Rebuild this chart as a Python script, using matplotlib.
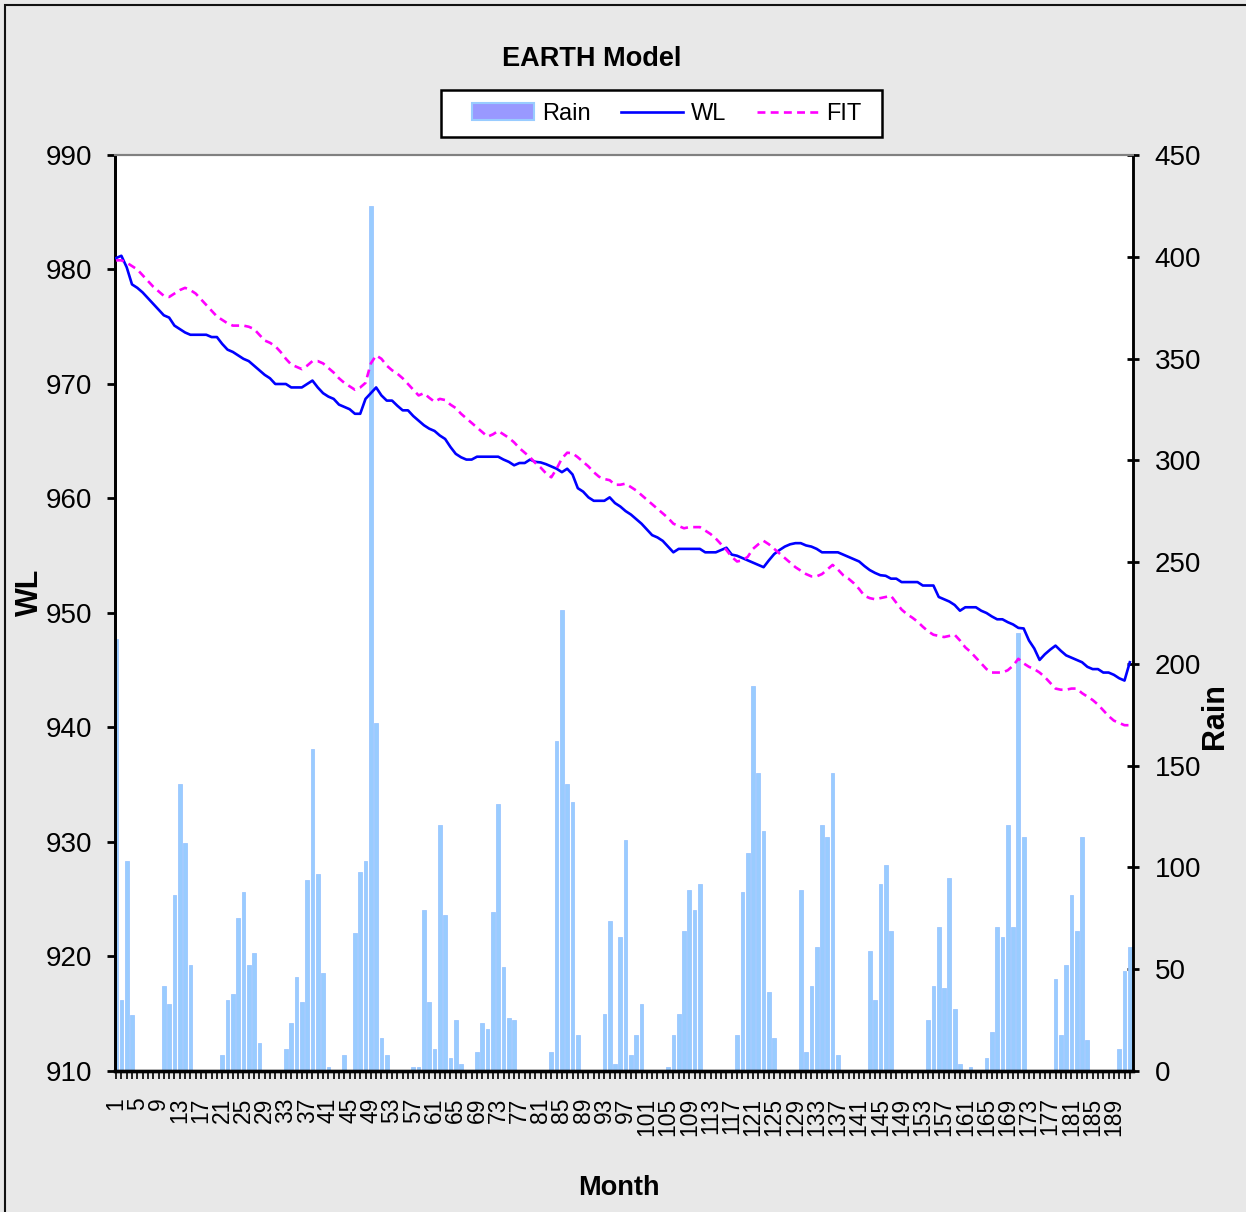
import matplotlib
matplotlib.use("Agg")
import matplotlib.pyplot as plt
from matplotlib.patches import Rectangle, Patch
from matplotlib.lines import Line2D
from matplotlib import font_manager

_names = {f.name for f in font_manager.fontManager.ttflist}
if 'Liberation Sans Narrow' in _names:
    NARROW = ['Liberation Sans Narrow', 'DejaVu Sans']
    NSCALE = 1.2
else:
    NARROW = ['Liberation Sans', 'DejaVu Sans']
    NSCALE = 1.0
REG = ['Liberation Sans', 'DejaVu Sans']

months = list(range(1, 193))

rain = [
    212, 35, 103, 27.5, 0, 0, 0, 0, 0, 42, 33, 86.5,
    141, 112, 52, 0, 0, 0, 0, 0, 8, 35, 38, 75,
    88, 52, 58, 13.6, 0, 0, 0, 0, 10.7, 23.4, 46, 34,
    94, 158, 97, 48, 1.8, 0, 0, 7.7, 0, 68, 98, 103,
    425, 171, 16.4, 7.7, 0, 0, 0, 0, 1.8, 1.8, 79, 34,
    10.7, 121, 76.5, 6.2, 25, 3.4, 0, 0, 9.2, 23.4, 20.6, 78,
    131, 51, 26, 25, 0, 0, 0, 0, 0, 0, 9.2, 162,
    226.5, 141, 132, 17.7, 0, 0, 0, 0, 28, 73.5, 3.4, 66,
    113.5, 7.7, 17.7, 33, 0, 0, 0, 0, 1.8, 17.7, 28, 69,
    89, 79, 92, 0, 0, 0, 0, 0, 0, 17.7, 88, 107,
    189, 146.5, 118, 39, 16.4, 0, 0, 0, 0, 89, 9.2, 42,
    61, 121, 115, 146.5, 7.7, 0, 0, 0, 0, 0, 59, 35,
    92, 101, 69, 0, 0, 0, 0, 0, 0, 25, 42, 70.6,
    40.6, 95, 30.5, 3.4, 0, 1.8, 0, 0, 6.2, 19.2, 70.6, 66,
    121, 70.6, 215, 115, 0, 0, 0, 0, 0, 45, 17.7, 52,
    86.5, 69, 115, 15, 0, 0, 0, 0, 0, 10.7, 49, 61,
]

wl = [
    981.0, 981.2, 980.2, 978.7, 978.4, 978.0, 977.5, 977.0, 976.5, 976.0, 975.8, 975.1,
    974.8, 974.5, 974.3, 974.3, 974.3, 974.3, 974.1, 974.1, 973.5, 973.0, 972.8, 972.5,
    972.2, 972.0, 971.6, 971.2, 970.8, 970.5, 970.0, 970.0, 970.0, 969.7, 969.7, 969.7,
    970.0, 970.3, 969.7, 969.2, 968.9, 968.7, 968.2, 968.0, 967.8, 967.4, 967.4, 968.7,
    969.2, 969.7, 969.0, 968.55, 968.55, 968.1, 967.7, 967.7, 967.2, 966.8, 966.4, 966.1,
    965.9, 965.5, 965.2, 964.5, 963.9, 963.6, 963.4, 963.4, 963.65, 963.65, 963.65, 963.65,
    963.65, 963.4, 963.2, 962.9, 963.1, 963.1, 963.4, 963.2, 963.15, 963.0, 962.8, 962.6,
    962.3, 962.6, 962.1, 960.9, 960.6, 960.1, 959.8, 959.8, 959.8, 960.1, 959.6, 959.3,
    958.9, 958.6, 958.2, 957.8, 957.3, 956.8, 956.6, 956.3, 955.8, 955.3, 955.6, 955.6,
    955.6, 955.6, 955.6, 955.3, 955.3, 955.3, 955.5, 955.7, 955.1, 955.0, 954.8, 954.6,
    954.4, 954.2, 954.0, 954.6, 955.15, 955.5, 955.8, 956.0, 956.1, 956.1, 955.9, 955.8,
    955.6, 955.3, 955.3, 955.3, 955.3, 955.1, 954.9, 954.7, 954.5, 954.1, 953.75, 953.5,
    953.3, 953.25, 953.0, 953.0, 952.7, 952.7, 952.7, 952.7, 952.4, 952.4, 952.4, 951.4,
    951.2, 951.0, 950.7, 950.2, 950.5, 950.5, 950.5, 950.2, 950.0, 949.7, 949.45, 949.45,
    949.2, 949.0, 948.7, 948.65, 947.6, 946.9, 945.9, 946.4, 946.8, 947.15, 946.7, 946.3,
    946.1, 945.9, 945.7, 945.3, 945.1, 945.1, 944.8, 944.8, 944.6, 944.3, 944.1, 945.7,
]

fit = [
    980.8, 980.8, 980.6, 980.3, 980.0, 979.5, 979.0, 978.5, 978.1, 977.7, 977.6, 977.9,
    978.2, 978.4, 978.2, 977.9, 977.4, 976.9, 976.4, 975.9, 975.6, 975.3, 975.1, 975.1,
    975.1, 975.0, 974.8, 974.3, 973.8, 973.6, 973.3, 972.8, 972.2, 971.7, 971.5, 971.3,
    971.6, 972.0, 972.0, 971.8, 971.4, 971.0, 970.5, 970.1, 969.8, 969.5, 969.7, 970.1,
    971.8, 972.5, 972.2, 971.6, 971.2, 970.9, 970.5, 970.0, 969.5, 969.0, 969.2, 968.8,
    968.45, 968.7, 968.6, 968.2, 967.9, 967.4, 967.0, 966.6, 966.2, 965.8, 965.4, 965.6,
    965.9, 965.6, 965.3, 964.9, 964.4, 964.0, 963.6, 963.1, 962.7, 962.2, 961.85, 962.6,
    963.5, 964.0, 963.95, 963.6, 963.2, 962.8, 962.3, 961.9, 961.7, 961.6, 961.2, 961.2,
    961.3, 961.0, 960.7, 960.3, 959.9, 959.5, 959.1, 958.7, 958.3, 957.8, 957.6, 957.4,
    957.5, 957.5, 957.5, 957.2, 956.9, 956.5, 956.0, 955.5, 954.9, 954.5, 954.6, 954.9,
    955.6, 956.0, 956.3, 956.0, 955.6, 955.2, 954.8, 954.4, 954.0, 953.7, 953.4, 953.2,
    953.2, 953.4, 953.8, 954.2, 953.8, 953.3, 953.0, 952.6, 952.1, 951.5, 951.3, 951.2,
    951.3, 951.4, 951.5, 950.9, 950.3, 949.9, 949.6, 949.25, 948.8, 948.4, 948.1, 948.0,
    947.9, 948.0, 948.1, 947.6, 947.0, 946.6, 946.1, 945.6, 945.1, 944.8, 944.8, 944.8,
    945.0, 945.4, 946.0, 945.6, 945.3, 945.1, 944.8, 944.4, 943.9, 943.4, 943.3, 943.3,
    943.4, 943.4, 943.0, 942.7, 942.4, 942.0, 941.5, 941.0, 940.6, 940.4, 940.2, 940.2,
]

xtick_months = list(range(1, 193, 4))
xtick_labels = [str(m) for m in xtick_months]
wl_ticks = list(range(910, 991, 10))
rain_ticks = list(range(0, 451, 50))

W, H = 1246, 1212
fig = plt.figure(figsize=(W / 100, H / 100), dpi=100)
fig.patch.set_facecolor('#E8E8E8')

# outer frame
fig.patches.append(Rectangle((5 / W, -0.01), 1.02, 1 - 5 / H + 0.01,
                             transform=fig.transFigure, fill=False,
                             edgecolor='#111111', linewidth=1.5))

L, R, T, B = 115, 1133, 155, 1071
ax = fig.add_axes([L / W, 1 - B / H, (R - L) / W, (B - T) / H])
ax.set_facecolor('white')
ax.bar(months, rain, width=0.7, color='#99CCFF', edgecolor='#9CC6FF',
       linewidth=0.6, zorder=2)
ax.set_ylim(0, 450)
ax.set_xlim(0.8, 192.6)

ax2 = ax.twinx()
ax2.plot(months, wl, color='#0000FF', linewidth=1.9, zorder=3)
ax2.plot(months, fit, color='#FF00FF', linewidth=1.9, linestyle=(0, (3, 2)), zorder=3)
ax2.set_ylim(910, 990)
ax2.set_xlim(0.8, 192.6)

ax.yaxis.tick_right()
ax2.yaxis.tick_left()

for a in (ax, ax2):
    a.spines['top'].set_color('#808080')
    a.spines['top'].set_linewidth(1.5)
    a.spines['left'].set_color('black')
    a.spines['left'].set_linewidth(2.0)
    a.spines['right'].set_color('black')
    a.spines['right'].set_linewidth(1.8)
    a.spines['bottom'].set_color('black')
    a.spines['bottom'].set_linewidth(2.4)

TICK_FS = 20 * NSCALE
ax.set_yticks(rain_ticks)
ax.set_yticklabels([str(v) for v in rain_ticks], fontfamily=NARROW, fontsize=TICK_FS)
ax.tick_params(axis='y', which='major', direction='inout', length=9, width=2, pad=11)

ax2.set_yticks(wl_ticks)
ax2.set_yticklabels([str(v) for v in wl_ticks], fontfamily=NARROW, fontsize=TICK_FS)
ax2.tick_params(axis='y', which='major', direction='out', length=5.5, width=2, pad=11)

ax.set_xticks(xtick_months)
ax.set_xticklabels(xtick_labels, rotation=90, fontfamily=REG, fontsize=16.5)
ax.set_xticks(months, minor=True)
ax.tick_params(axis='x', which='both', direction='out', length=6, width=1.2, pad=13)

fig.text(592 / W, 1 - 59 / H, 'EARTH Model', ha='center', va='center',
         fontfamily=NARROW, fontweight='bold', fontsize=19.5 * NSCALE)
fig.text(619 / W, 1 - 1188 / H, 'Month', ha='center', va='center',
         fontfamily=NARROW, fontweight='bold', fontsize=19.5 * NSCALE)
fig.text(30 / W, 1 - 592 / H, 'WL', ha='center', va='center', rotation=90,
         fontfamily=REG, fontweight='bold', fontsize=22)
fig.text(1215 / W, 1 - 716 / H, 'Rain', ha='center', va='center', rotation=90,
         fontfamily=REG, fontweight='bold', fontsize=22)

# legend frame and entries
fig.patches.append(Rectangle((441 / W, 1 - 137 / H), 441 / W, 47 / H,
                             transform=fig.transFigure, facecolor='white',
                             edgecolor='black', linewidth=1.8, zorder=1))
handles = [Patch(facecolor='#9999FF', edgecolor='#99CCFF', linewidth=1.5),
           Line2D([], [], color='#0000FF', linewidth=1.9),
           Line2D([], [], color='#FF00FF', linewidth=1.9, linestyle=(0, (3, 2)))]
fig.legend(handles, ['Rain', 'WL', 'FIT'], loc='center',
           bbox_to_anchor=(667 / W, 1 - 114 / H), ncol=3, frameon=False,
           prop={'family': NARROW, 'size': 17 * NSCALE}, handlelength=2.6,
           handleheight=0.7, handletextpad=0.35, columnspacing=1.3)

fig.savefig('out.png', dpi=100, facecolor=fig.get_facecolor())
